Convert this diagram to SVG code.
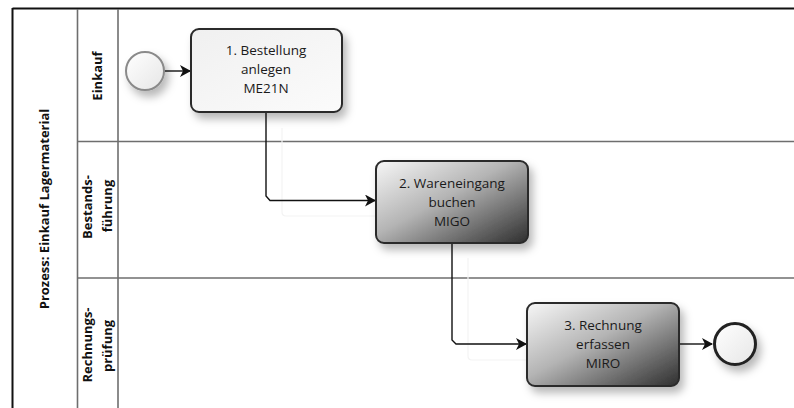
<svg xmlns="http://www.w3.org/2000/svg" width="794" height="408" viewBox="0 0 794 408">
<style>
.lane{stroke:#6e6e6e;stroke-width:1.6;fill:none}
.lbl{font-family:"Open Sans","Noto Sans",sans-serif;font-weight:bold;font-size:13px;fill:#111;text-anchor:middle}
.tt{font-family:"Open Sans","Noto Sans",sans-serif;font-size:13.5px;fill:#1a1a1a;text-anchor:middle}
.task{stroke:#2a2a2a;stroke-width:2}
.conn{stroke:#111;stroke-width:1.4;fill:none;marker-end:url(#arr)}
.ghost{stroke:#f3f3f3;stroke-width:1.2;fill:none}
</style>
<defs>
<marker id="arr" markerWidth="12" markerHeight="12" refX="10" refY="6" orient="auto" markerUnits="userSpaceOnUse">
<path d="M0,0 L11,6 L0,12 L3,6 z" fill="#111"/>
</marker>
<linearGradient id="gLight" x1="0" y1="0" x2="1" y2="1">
<stop offset="0" stop-color="#f0f0f0"/>
<stop offset="1" stop-color="#fbfbfb"/>
</linearGradient>
<linearGradient id="gDark" x1="0" y1="0" x2="1" y2="1">
<stop offset="0" stop-color="#f7f7f7"/>
<stop offset="0.45" stop-color="#b4b4b4"/>
<stop offset="1" stop-color="#2e2e2e"/>
</linearGradient>
<linearGradient id="gEv" x1="0" y1="0" x2="1" y2="1">
<stop offset="0" stop-color="#ffffff"/>
<stop offset="1" stop-color="#e6e6e6"/>
</linearGradient>
<filter id="sh" x="-30%" y="-30%" width="170%" height="170%">
<feDropShadow dx="4" dy="6" stdDeviation="4" flood-color="#000" flood-opacity="0.28"/>
</filter>
</defs>
<rect width="794" height="408" fill="#fff"/>

<g id="pool">
<line x1="12.5" y1="8.5" x2="794" y2="8.5" stroke="#111" stroke-width="2"/>
<line x1="12.5" y1="8" x2="12.5" y2="408" stroke="#111" stroke-width="2"/>
<line class="lane" x1="77.5" y1="9" x2="77.5" y2="408"/>
<text class="lbl" transform="translate(49,209) rotate(-90)">Prozess: Einkauf Lagermaterial</text>
</g>

<g id="lane-einkauf">
<line class="lane" x1="118" y1="9" x2="118" y2="408"/>
<line class="lane" x1="77.5" y1="141.5" x2="794" y2="141.5"/>
<text class="lbl" transform="translate(102,76) rotate(-90)">Einkauf</text>
</g>

<g id="lane-bestand">
<line class="lane" x1="77.5" y1="278" x2="794" y2="278"/>
<text class="lbl" transform="translate(92,207) rotate(-90)">Bestands-</text>
<text class="lbl" transform="translate(112,206) rotate(-90)">führung</text>
</g>

<g id="lane-rechnung">
<text class="lbl" transform="translate(92,345) rotate(-90)">Rechnungs-</text>
<text class="lbl" transform="translate(112,346) rotate(-90)">prüfung</text>
</g>

<g id="connectors">
<path class="ghost" d="M282,128 V212 Q282,216 286,216 H392"/>
<path class="ghost" d="M468,258 V356 Q468,360 472,360 H543"/>
<path class="conn" d="M164.5,71 H190"/>
<path class="conn" d="M266,112 V196 L270,200.5 H375"/>
<path class="conn" d="M452,244 V340 L456,344 H526"/>
<path class="conn" d="M680,344 H712"/>
</g>

<g id="start">
<circle cx="145" cy="71" r="19" fill="url(#gEv)" stroke="#8a8a8a" stroke-width="2" filter="url(#sh)"/>
</g>

<g id="task1">
<rect class="task" x="191" y="29" width="151" height="83" rx="8" fill="url(#gLight)" filter="url(#sh)"/>
<text class="tt" x="266" y="55">1. Bestellung</text>
<text class="tt" x="266" y="74">anlegen</text>
<text class="tt" x="266" y="93">ME21N</text>
</g>

<g id="task2">
<rect class="task" x="376" y="161" width="152" height="82" rx="8" fill="url(#gDark)" filter="url(#sh)"/>
<text class="tt" x="452" y="188">2. Wareneingang</text>
<text class="tt" x="452" y="207">buchen</text>
<text class="tt" x="452" y="226">MIGO</text>
</g>

<g id="task3">
<rect class="task" x="527" y="303" width="152" height="83" rx="8" fill="url(#gDark)" filter="url(#sh)"/>
<text class="tt" x="603" y="330">3. Rechnung</text>
<text class="tt" x="603" y="349">erfassen</text>
<text class="tt" x="603" y="368">MIRO</text>
</g>

<g id="end">
<circle cx="735" cy="344" r="20.5" fill="url(#gEv)" stroke="#222" stroke-width="3" filter="url(#sh)"/>
</g>
</svg>
